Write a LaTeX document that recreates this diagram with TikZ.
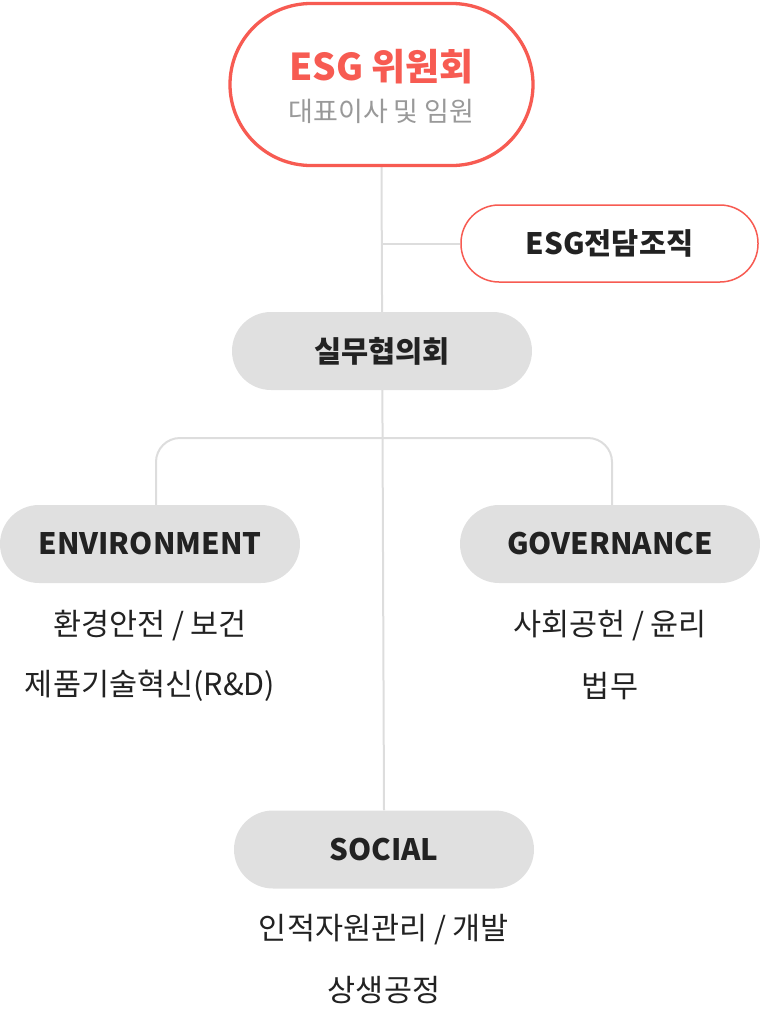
\documentclass[tikz,border=0pt]{standalone}
\usepackage{fontspec}
\setmainfont{Noto Sans CJK KR}
\usepackage{tikz}
\usetikzlibrary{backgrounds, calc}

\definecolor{esgred}{HTML}{F75B52}
\definecolor{pillgray}{HTML}{E0E0E0}
\definecolor{linegray}{HTML}{DDDDDD}
\definecolor{subgray}{HTML}{999999}
\definecolor{textdark}{HTML}{222222}

\begin{document}
\begin{tikzpicture}[x=1pt, y=-1pt,
    redpill/.style={draw=esgred, fill=white, rectangle, inner sep=0pt},
    graypill/.style={fill=pillgray, rectangle, inner sep=0pt, rounded corners=39pt,
        minimum width=300pt, minimum height=78pt,
        font=\fontsize{29.5}{32}\selectfont\bfseries, text=textdark},
    item/.style={font=\fontsize{30.5}{34}\selectfont, text=textdark},
    link/.style={draw=linegray, line width=2pt}]

\useasboundingbox (0,0) rectangle (760,1020);

% Committee at the top
\node[redpill, line width=3.3pt, rounded corners=81pt,
      minimum width=303pt, minimum height=162pt] (committee) at (381.5,84.5) {};
\node[text=esgred, font=\fontsize{37}{40}\selectfont\bfseries] (ctitle) at (381.5,67) {ESG 위원회};
\node[text=subgray, font=\fontsize{27}{30}\selectfont] (csub) at (381.5,111) {대표이사 및 임원};

% Dedicated organisation on the side
\node[redpill, line width=1.5pt, rounded corners=38pt,
      minimum width=297pt, minimum height=77pt,
      font=\fontsize{29.5}{32}\selectfont\bfseries, text=textdark] (dedicated) at (609.5,243.5) {ESG전담조직};

% Working council
\node[graypill] (council) at (382,351) {실무협의회};

% Three ESG areas
\node[graypill] (env) at (150,544) {ENVIRONMENT};
\node[graypill] (gov) at (610,544) {GOVERNANCE};
\node[graypill] (social) at (384,849.5) {SOCIAL};

% Tasks under each area
\node[item] (env1) at (150,626) {환경안전 / 보건};
\node[item] (env2) at (150,686) {제품기술혁신(R\&D)};
\node[item] (gov1) at (610,626) {사회공헌 / 윤리};
\node[item] (gov2) at (610,686) {법무};
\node[item] (soc1) at (384,930) {인적자원관리 / 개발};
\node[item] (soc2) at (384,990) {상생공정};

% Connectors behind the pills
\begin{scope}[on background layer]
\draw[link] (committee.south) -- (social.north);
\coordinate (side) at (committee.south |- dedicated.west);
\draw[link] (side) -- (dedicated.west);
\coordinate (split) at (381.5,438);
\draw[link, rounded corners=24pt] ([xshift=6pt]env.north) |- (split) -| ([xshift=2pt]gov.north);
\end{scope}

\end{tikzpicture}
\end{document}
